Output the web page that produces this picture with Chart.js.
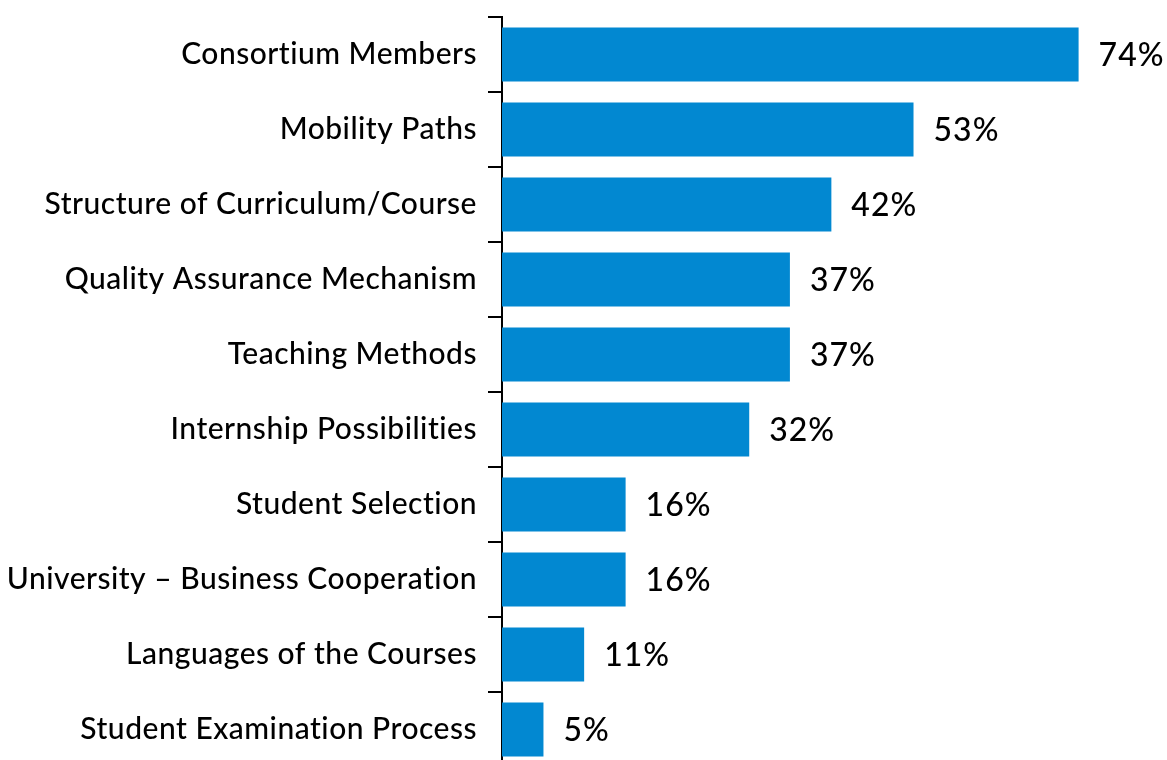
<!DOCTYPE html>
<html>
<head>
<meta charset="utf-8">
<script src="https://cdn.jsdelivr.net/npm/chart.js@4"></script>
<style>
  html, body { margin: 0; padding: 0; background: #fff; overflow: hidden; }
  #wrap { width: 1167px; height: 760px; overflow: hidden; }
  #box { width: 1167px; height: 768px; }
</style>
</head>
<body>
<div id="wrap"><div id="box"><canvas id="chart"></canvas></div></div>
<script>
// Categorias e valores (percentuais, base de 19 respostas)
const categories = [
    'Consortium Members',
    'Mobility Paths',
    'Structure of Curriculum/Course',
    'Quality Assurance Mechanism',
    'Teaching Methods',
    'Internship Possibilities',
    'Student Selection',
    'University – Business Cooperation',
    'Languages of the Courses',
    'Student Examination Process'
];
const values = [73.7, 52.6, 42.1, 36.8, 36.8, 31.6, 15.8, 15.8, 10.5, 5.3];
const valueLabels = ['74%', '53%', '42%', '37%', '37%', '32%', '16%', '16%', '11%', '5%'];

const FONT = 'Lato, "Open Sans", sans-serif';

// Espaçamento entre letras (também evita as ligaduras do Lato, ex.: "ti")
const spacingPlugin = {
    id: 'letterSpacing',
    beforeDraw(chart) {
        chart.ctx.letterSpacing = '0.5px';
    }
};

// Plugin simples para escrever o valor ao lado de cada barra
const valueLabelPlugin = {
    id: 'valueLabels',
    afterDatasetsDraw(chart) {
        const ctx = chart.ctx;
        const meta = chart.getDatasetMeta(0);
        ctx.save();
        ctx.font = '500 32px ' + FONT;
        ctx.letterSpacing = '1px';
        ctx.fillStyle = '#000';
        ctx.textAlign = 'left';
        ctx.textBaseline = 'middle';
        meta.data.forEach((bar, i) => {
            ctx.fillText(valueLabels[i], bar.x + 20, bar.y + 1);
        });
        ctx.restore();
    }
};

new Chart(document.getElementById('chart'), {
    type: 'bar',
    data: {
        labels: categories,
        datasets: [{
            data: values,
            backgroundColor: '#0288d1',
            borderWidth: 0,
            barPercentage: 0.72,
            categoryPercentage: 1
        }]
    },
    options: {
        indexAxis: 'y',
        responsive: true,
        maintainAspectRatio: false,
        animation: false,
        layout: { padding: { top: 17, bottom: 1, left: 0, right: 0 } },
        plugins: {
            legend: { display: false },
            tooltip: { enabled: false }
        },
        scales: {
            x: {
                display: false,
                min: 0,
                max: 85
            },
            y: {
                afterFit(scale) {
                    scale.width = 502;
                    // remove o espaço extra que o Chart.js reserva para os rótulos
                    scale.paddingTop = 0;
                    scale.paddingBottom = 0;
                },
                border: { color: '#000', width: 2 },
                grid: {
                    offset: true,
                    drawOnChartArea: false,
                    color: '#000',
                    lineWidth: 2,
                    tickLength: 14
                },
                ticks: {
                    color: '#000',
                    padding: 11,
                    font: { family: FONT, size: 30, weight: '500' }
                }
            }
        }
    },
    plugins: [spacingPlugin, valueLabelPlugin]
});
</script>
</body>
</html>
